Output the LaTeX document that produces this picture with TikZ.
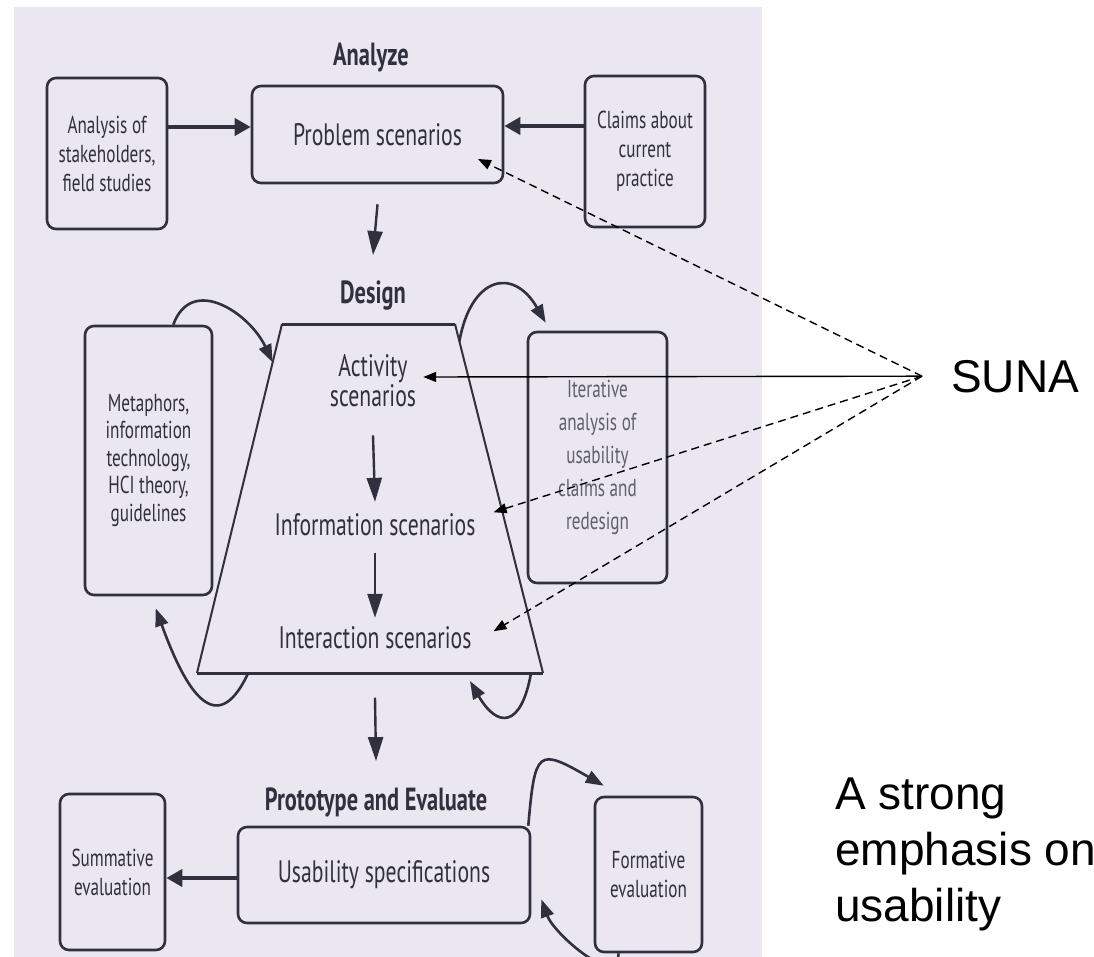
\documentclass[tikz,border=0pt]{standalone}
\usepackage{fontspec}
\setmainfont{Liberation Sans}
\newfontfamily\bookfont[FakeStretch=0.7]{PT Sans}
\usetikzlibrary{arrows.meta,calc}
\definecolor{scanbg}{RGB}{234,231,240}
\definecolor{ink}{RGB}{48,48,62}
\definecolor{fadedink}{RGB}{95,95,110}
\tikzstyle{scanbox}=[draw=ink, line width=2.6pt, rounded corners=9pt, inner sep=0, align=center, text=ink]
\tikzstyle{sidetext}=[font=\bookfont\fontsize{24.5}{29}\selectfont]
\tikzstyle{maintext}=[font=\bookfont\fontsize{31}{30}\selectfont, text=ink, inner sep=0, align=center]
\tikzstyle{heading}=[font=\bookfont\bfseries\fontsize{32}{30}\selectfont, text=ink, inner sep=0]
\tikzstyle{feed}=[draw=ink, line width=3.8pt, -{Triangle[length=16pt,width=17pt]}]
\tikzstyle{flow}=[draw=ink, line width=2.4pt, -{Triangle[length=24pt,width=15pt]}]
\tikzstyle{cyclearrow}=[draw=ink, line width=2.6pt, -{Triangle[length=18pt,width=13pt]}]
\tikzstyle{sunaline}=[draw=black, line width=1.4pt, -{Triangle[length=13pt,width=10pt]}]
\tikzstyle{sunadash}=[sunaline, dash pattern=on 8pt off 5pt]
\tikzstyle{slidetext}=[font=\fontsize{46}{56}\selectfont, inner sep=0, text=black]
\newcommand{\sidebox}[6][]{\node[scanbox, sidetext, minimum width=#4, minimum height=#5, #1] (#2) at (#3) {#6};}

\begin{document}
\begin{tikzpicture}[x=1pt, y=1pt]
\useasboundingbox (0,0) rectangle (1094,-956);
\clip (0,0) rectangle (1094,-956);
\fill[scanbg] (14,-7) rectangle (762,-960);

\node[heading, anchor=base] (analyze) at (371,-65) {Analyze};
\node[scanbox, maintext, minimum width=251pt, minimum height=97pt] (probbox) at (377.5,-134.5) {Problem scenarios};
\sidebox{anabox}{107,-153.5}{120pt}{151pt}{Analysis of\\stakeholders,\\field studies}
\sidebox{claimbox}{645,-151.5}{120pt}{151pt}{Claims about\\current\\practice}

\node[heading, anchor=base] (design) at (373,-303) {Design};
\coordinate (tl) at (282,-324);
\coordinate (tr) at (455,-324);
\coordinate (br) at (543,-673);
\coordinate (bl) at (197,-673);
\draw[ink, line width=2pt] (tl) -- (bl) (tr) -- (br);
\draw[ink, line width=3pt] (bl) -- (br) (tl) -- (tr);
\node[maintext] (act) at (373,-381) {Activity\\scenarios};
\node[maintext, anchor=base] (info) at (375,-535) {Information scenarios};
\node[maintext, anchor=base] (inter) at (375,-648) {Interaction scenarios};
\sidebox[font=\bookfont\fontsize{24.5}{27.5}\selectfont]{metabox}{148.5,-460.5}{127pt}{269pt}{Metaphors,\\information\\technology,\\HCI theory,\\guidelines}
\sidebox[text=fadedink, font=\bookfont\fontsize{24.5}{33}\selectfont]{iterbox}{597.5,-457.5}{139pt}{251pt}{Iterative\\analysis of\\usability\\claims and\\redesign}

\node[heading, anchor=base] (proto) at (376,-810) {Prototype and Evaluate};
\node[scanbox, maintext, minimum width=292pt, minimum height=96pt] (usebox) at (384,-875) {Usability specifications};
\sidebox{sumbox}{112.5,-872}{105pt}{156pt}{Summative\\evaluation}
\sidebox{formbox}{648.5,-874.5}{107pt}{155pt}{Formative\\evaluation}

\draw[feed] ([yshift=26.5pt]anabox.east) -- ([yshift=7.5pt]probbox.west);
\draw[feed] ([yshift=25.5pt]claimbox.west) -- ([yshift=8.5pt]probbox.east);
\draw[feed] ([yshift=-3pt]usebox.west) -- ([yshift=-6pt]sumbox.east);
\draw[flow] ([yshift=-20pt]probbox.south) -- ([yshift=25pt]design.north);
\draw[flow] ([yshift=-28pt]act.south) -- ([yshift=11pt]info.north);
\draw[flow] ([yshift=-17pt]info.south) -- ([yshift=8pt]inter.north);
\draw[flow] ([yshift=-49pt]inter.south) -- ([yshift=26pt]proto.north);

\draw[cyclearrow] ([xshift=-40pt]metabox.north east) to[out=70, in=115, looseness=1.3] ($(tl)!0.11!(bl)$);
\draw[cyclearrow] ($(tr)!0.05!(br)$) to[out=80, in=120, looseness=1.9] ([shift={(19,8)}]iterbox.north west);
\draw[cyclearrow] ($(bl)!0.148!(br)$) to[out=-115, in=-70, looseness=1.8] ([shift={(72,-12)}]metabox.south west);
\draw[cyclearrow] ([xshift=-12pt]br) to[out=-100, in=-60, looseness=2.3] ([shift={(-73,-8)}]br);
\draw[cyclearrow] ([xshift=-3pt]usebox.north east) to[out=85, in=150, looseness=2.3] ([shift={(10,10)}]formbox.north west);
\draw[cyclearrow] ([xshift=-30pt]formbox.south) to[out=-90, in=-70] ([shift={(10,25)}]usebox.south east);

\node[slidetext, anchor=base west] (suna) at (951,-392) {SUNA};
\node[slidetext, anchor=north west, align=left] (emph) at (835,-778) {A strong\\emphasis on\\usability};
\coordinate (hub) at ([xshift=-29pt]suna.west);
\draw[sunaline] (hub) -- ([shift={(7,4)}]act.east);
\draw[sunadash] (hub) -- ([shift={(100.5,-24.5)}]probbox.center);
\draw[sunadash] (hub) -- ([shift={(18,12)}]info.east);
\draw[sunadash] (hub) -- ([shift={(22,6)}]inter.east);
\end{tikzpicture}
\end{document}
